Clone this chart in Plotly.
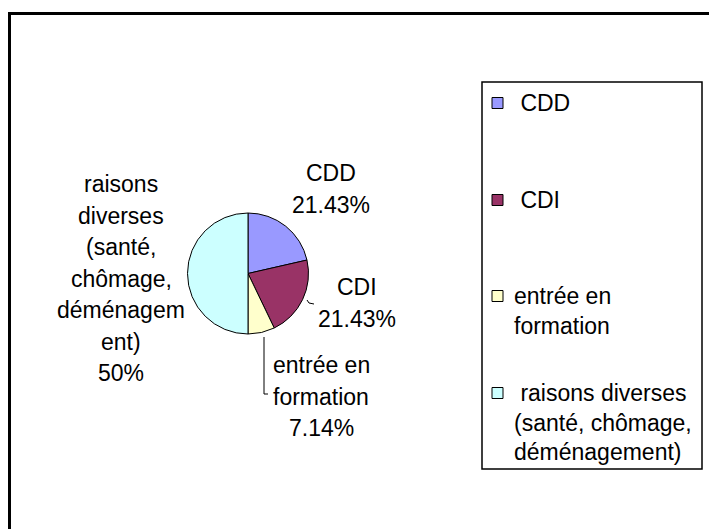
import plotly.graph_objects as go

# data
categories = ["CDD", "CDI", "entrée en formation",
              "raisons diverses (santé, chômage, déménagement)"]
values = [3, 3, 1, 7]
colors = ["#9999FF", "#993366", "#FFFFCC", "#CCFFFF"]

# wrapped texts as they appear on the chart
pie_label_lines = [["CDD"], ["CDI"], ["entrée en", "formation"],
                   ["raisons", "diverses", "(santé,", "chômage,", "déménagem", "ent)"]]
legend_lines = [["\u00a0CDD"], ["\u00a0CDI"], ["entrée en", "formation"],
                ["\u00a0raisons diverses", "(santé, chômage,", "déménagement)"]]

# the page body has an 8px margin, so the figure starts at (8, 8) on screen;
# the axes are set up so that shapes/annotations use screen pixels directly
OFF = 8
SW, SH = 717, 529
W, H = SW - OFF, SH - OFF
FONT = dict(family="Arial, Liberation Sans, sans-serif", size=23, color="#000000")

# pie placement in screen pixels (center, radius)
cx, cy, r = 248, 273.5, 60.5

# pie labels: center x, first line y
label_pos = [(331, 173), (357, 287), (321, 365), (121, 184)]
LABEL_STEP = 31.5
# legend layout
legend_box = (482, 82, 702, 469)
legend_first_y = [103, 200, 296, 393]
LEGEND_STEP = 29.5


def pct(v):
    p = v / sum(values) * 100
    return f"{p:.2f}".rstrip("0").rstrip(".") + "%"


fig = go.Figure()
fig.add_trace(go.Pie(
    labels=categories,
    values=values,
    sort=False,
    direction="clockwise",
    rotation=0,
    textinfo="none",
    hoverinfo="label+percent",
    marker=dict(colors=colors, line=dict(color="#000000", width=1)),
    domain=dict(x=[(cx - r - OFF) / W, (cx + r - OFF) / W],
                y=[1 - (cy + r - OFF) / H, 1 - (cy - r - OFF) / H]),
    showlegend=False,
))

# pie labels, one annotation per line
for lines, v, (x, y) in zip(pie_label_lines, values, label_pos):
    for i, line in enumerate(lines + [pct(v)]):
        fig.add_annotation(x=x, y=y + i * LABEL_STEP, xref="x", yref="y", text=line,
                           showarrow=False, xanchor="center", yanchor="middle", font=FONT)

# leader lines
fig.add_shape(type="path", path="M 307 300 L 309 303 L 314 304", xref="x", yref="y",
              line=dict(color="#000000", width=1))
fig.add_shape(type="path", path="M 264 337 L 264 394 L 268 394", xref="x", yref="y",
              line=dict(color="#000000", width=1))

# legend
x0, y0, x1, y1 = legend_box
fig.add_shape(type="rect", x0=x0, y0=y0, x1=x1, y1=y1, xref="x", yref="y",
              line=dict(color="#000000", width=1.5), fillcolor="#ffffff", layer="below")
for c, lines, ty in zip(colors, legend_lines, legend_first_y):
    fig.add_shape(type="rect", x0=492, x1=503, y0=ty - 5.5, y1=ty + 5.5,
                  xref="x", yref="y", line=dict(color="#000000", width=1), fillcolor=c)
    for i, line in enumerate(lines):
        fig.add_annotation(x=512, y=ty + i * LEGEND_STEP, xref="x", yref="y", text=line,
                           showarrow=False, xanchor="left", yanchor="middle", font=FONT)

# chart frame (cropped at the bottom)
fig.add_shape(type="line", x0=9.5, x1=9.5, y0=12, y1=SH + 5, xref="x", yref="y",
              line=dict(color="#000000", width=3))
fig.add_shape(type="line", x0=8, x1=716, y0=13.5, y1=13.5, xref="x", yref="y",
              line=dict(color="#000000", width=3))
fig.add_shape(type="line", x0=715.5, x1=715.5, y0=15, y1=SH + 5, xref="x", yref="y",
              line=dict(color="#c8c8c8", width=1))

fig.update_xaxes(range=[OFF, SW], visible=False, fixedrange=True)
fig.update_yaxes(range=[SH, OFF], visible=False, fixedrange=True)
fig.update_layout(
    width=W, height=H,
    margin=dict(l=0, r=0, t=0, b=0),
    paper_bgcolor="#ffffff",
    plot_bgcolor="#ffffff",
    showlegend=False,
)

fig.write_html("out.html")
